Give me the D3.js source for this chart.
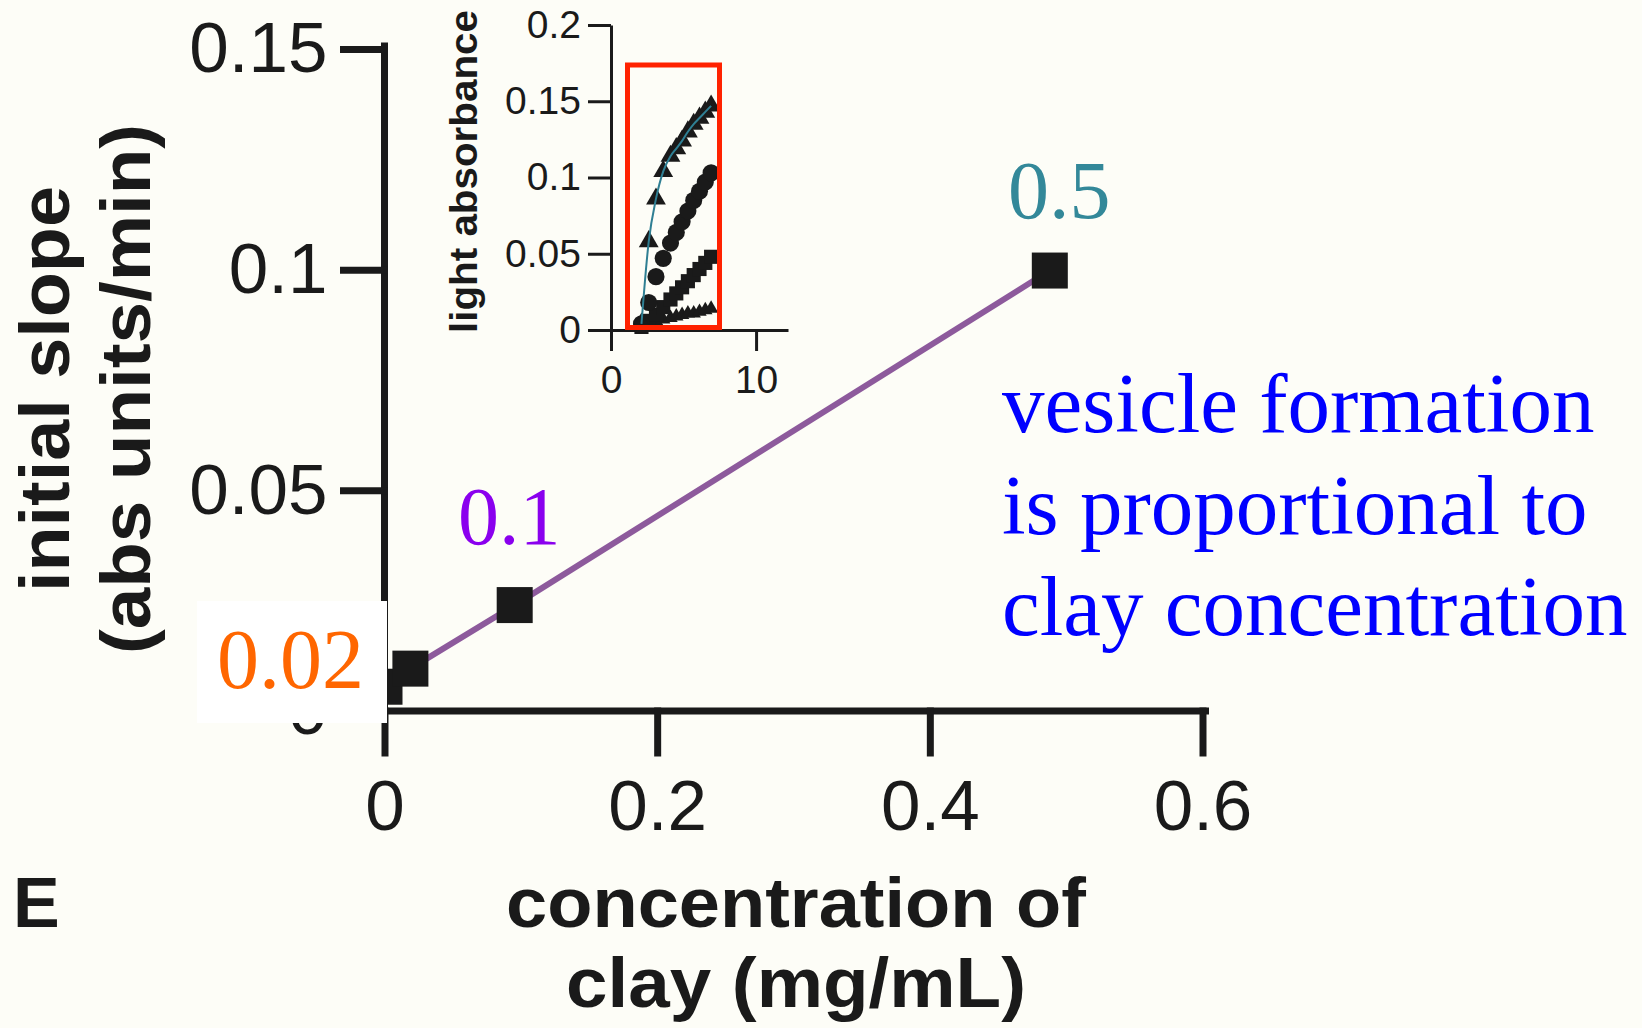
<!DOCTYPE html>
<html>
<head>
<meta charset="utf-8">
<script src="https://cdn.jsdelivr.net/npm/d3@7"></script>
<style>
  html, body { margin: 0; padding: 0; background: #fdfdf7; }
  svg { display: block; }
  .sans { font-family: "Liberation Sans", Arial, Helvetica, sans-serif; }
  .serif { font-family: "Liberation Serif", "Times New Roman", serif; }
</style>
</head>
<body>
<svg id="chart" width="1642" height="1028"></svg>
<script>
// ---------------- DATA ----------------
// Main panel: clay concentration (mg/mL, as plotted) vs initial slope
const clayConc = [0, 0.019, 0.0955, 0.488];
const initialSlope = [0.0055, 0.0096, 0.0240, 0.0998];
const pointLabels = ["0.02", "0.1", "0.5"];
const xTicks = [0, 0.2, 0.4, 0.6];
const xTickLabels = ["0", "0.2", "0.4", "0.6"];
const yTicks = [0, 0.05, 0.1, 0.15];
const yTickLabels = ["0", "0.05", "0.1", "0.15"];

// Inset: light absorbance over time (min) for several clay concentrations
const insetTime = [2.1, 2.6, 3.1, 3.6, 4.1, 4.5, 4.9, 5.3, 5.7, 6.1, 6.5, 6.9];
const absTriangle = [0.004, 0.058, 0.086, 0.104, 0.114, 0.119, 0.124, 0.130, 0.135, 0.139, 0.143, 0.147];
const absCircle   = [0.004, 0.018, 0.035, 0.047, 0.057, 0.064, 0.071, 0.078, 0.085, 0.091, 0.097, 0.103];
const absSquare   = [0.002, 0.006, 0.010, 0.015, 0.020, 0.024, 0.028, 0.032, 0.036, 0.040, 0.044, 0.048];
const absSmall    = [0.003, 0.005, 0.006, 0.007, 0.008, 0.009, 0.010, 0.011, 0.011, 0.012, 0.013, 0.014];
const insetXTicks = [0, 10];
const insetYTicks = [0, 0.05, 0.1, 0.15, 0.2];
const insetYTickLabels = ["0", "0.05", "0.1", "0.15", "0.2"];

// ---------------- DRAW ----------------
const svg = d3.select("#chart");
const ink = "#1a1a1a";

// main scales
const x = d3.scaleLinear().domain([0, 0.6]).range([384.5, 1202.5]);
const y = d3.scaleLinear().domain([0, 0.15]).range([711, 49]);

// x axis
const gx = svg.append("g").attr("transform", `translate(0,${y(0)})`)
  .call(d3.axisBottom(x).tickValues(xTicks).tickFormat((d, i) => xTickLabels[i])
    .tickSize(42).tickSizeOuter(0).tickPadding(27));
// y axis
const gy = svg.append("g").attr("transform", `translate(${x(0)},0)`)
  .call(d3.axisLeft(y).tickValues(yTicks).tickFormat((d, i) => yTickLabels[i])
    .tickSize(41).tickSizeOuter(0).tickPadding(16));
[gx, gy].forEach(g => {
  g.selectAll("path, line").attr("stroke", ink).attr("stroke-width", 7).attr("stroke-linecap", "square");
  g.selectAll("text").attr("class", "sans").attr("font-size", 71).attr("fill", ink);
});
gx.select(".domain").attr("d", `M${x(0)},0H${x(0.6) + 3}`);
gy.select(".domain").attr("d", `M0,${y(0.15) - 3}V${y(0)}`);

// main line + squares
const pts = clayConc.map((c, i) => [c, initialSlope[i]]);
svg.append("path")
  .attr("d", d3.line().x(d => x(d[0])).y(d => y(d[1]))(pts))
  .attr("fill", "none").attr("stroke", "#8d5a9c").attr("stroke-width", 6);
svg.selectAll("rect.pt").data(pts).join("rect").attr("class", "pt")
  .attr("x", d => x(d[0]) - 18).attr("y", d => y(d[1]) - 18)
  .attr("width", 36).attr("height", 36).attr("fill", ink);

// white box + 0.02 label
svg.append("rect").attr("x", 197).attr("y", 601).attr("width", 190).attr("height", 122).attr("fill", "#ffffff");
svg.append("text").attr("class", "serif").attr("x", 217).attr("y", 688)
  .attr("font-size", 84).attr("fill", "#ff6600").text(pointLabels[0]);
svg.append("text").attr("class", "serif").attr("x", 458).attr("y", 544)
  .attr("font-size", 82).attr("fill", "#8a00ee").text(pointLabels[1]);
svg.append("text").attr("class", "serif").attr("x", 1008).attr("y", 218)
  .attr("font-size", 82).attr("fill", "#338899").text(pointLabels[2]);

// annotation text
const note = ["vesicle formation", "is proportional to", "clay concentration"];
svg.append("g").selectAll("text").data(note).join("text")
  .attr("class", "serif").attr("x", 1002).attr("y", (d, i) => 432 + i * 101.7)
  .attr("font-size", 85).attr("fill", "#0000ff").text(d => d);

// axis titles
const yTitle = ["initial slope", "(abs units/min)"];
const yTitleLen = [406, 530];
const yTitleBase = [69, 150];
yTitle.forEach((t, i) => {
  svg.append("text").attr("class", "sans")
    .attr("transform", `translate(${yTitleBase[i]},389) rotate(-90)`)
    .attr("text-anchor", "middle").attr("font-size", 70).attr("font-weight", "bold")
    .attr("textLength", yTitleLen[i]).attr("lengthAdjust", "spacingAndGlyphs")
    .attr("fill", ink).text(t);
});
const xTitle = ["concentration of", "clay (mg/mL)"];
const xTitleLen = [580, 460];
xTitle.forEach((t, i) => {
  svg.append("text").attr("class", "sans")
    .attr("x", 796).attr("y", 927 + i * 80)
    .attr("text-anchor", "middle").attr("font-size", 70).attr("font-weight", "bold")
    .attr("textLength", xTitleLen[i]).attr("lengthAdjust", "spacingAndGlyphs")
    .attr("fill", ink).text(t);
});
svg.append("text").attr("class", "sans").attr("x", 13).attr("y", 927)
  .attr("font-size", 70).attr("font-weight", "bold").attr("fill", ink).text("E");

// ---------------- INSET ----------------
const ix = d3.scaleLinear().domain([0, 12.2]).range([611, 788]);
const iy = d3.scaleLinear().domain([0, 0.2]).range([330, 25]);

const igx = svg.append("g").attr("transform", `translate(0,${iy(0)})`)
  .call(d3.axisBottom(ix).tickValues(insetXTicks).tickSize(21).tickSizeOuter(0).tickPadding(14));
const igy = svg.append("g").attr("transform", `translate(${ix(0)},0)`)
  .call(d3.axisLeft(iy).tickValues(insetYTicks).tickFormat((d, i) => insetYTickLabels[i])
    .tickSize(23).tickSizeOuter(0).tickPadding(7));
[igx, igy].forEach(g => {
  g.selectAll("path, line").attr("stroke", ink).attr("stroke-width", 3);
  g.selectAll("text").attr("class", "sans").attr("font-size", 39).attr("fill", ink);
});

svg.append("text").attr("class", "sans")
  .attr("transform", `translate(477,171.5) rotate(-90)`)
  .attr("text-anchor", "middle").attr("font-size", 38).attr("font-weight", "bold")
  .attr("textLength", 323).attr("lengthAdjust", "spacingAndGlyphs")
  .attr("fill", ink).text("light absorbance");

const series = [
  { vals: absSmall, type: d3.symbolTriangle, size: 90 },
  { vals: absSquare, type: d3.symbolSquare, size: 200 },
  { vals: absCircle, type: d3.symbolCircle, size: 230 },
  { vals: absTriangle, type: d3.symbolTriangle, size: 170 }
];
series.forEach(s => {
  svg.append("g").selectAll("path").data(insetTime).join("path")
    .attr("transform", (t, i) => `translate(${ix(t)},${iy(s.vals[i])})`)
    .attr("d", d3.symbol().type(s.type).size(s.size)())
    .attr("fill", ink);
});
// fit line for highest concentration
svg.append("path")
  .attr("d", d3.line().curve(d3.curveMonotoneX).x((t) => ix(t)).y((t, i) => iy(absTriangle[i]))(insetTime))
  .attr("fill", "none").attr("stroke", "#2f7f93").attr("stroke-width", 2);

// red highlight box
svg.append("rect").attr("x", 627.5).attr("y", 65).attr("width", 92).attr("height", 262.5)
  .attr("fill", "none").attr("stroke", "#ff2200").attr("stroke-width", 5);
</script>
</body>
</html>
